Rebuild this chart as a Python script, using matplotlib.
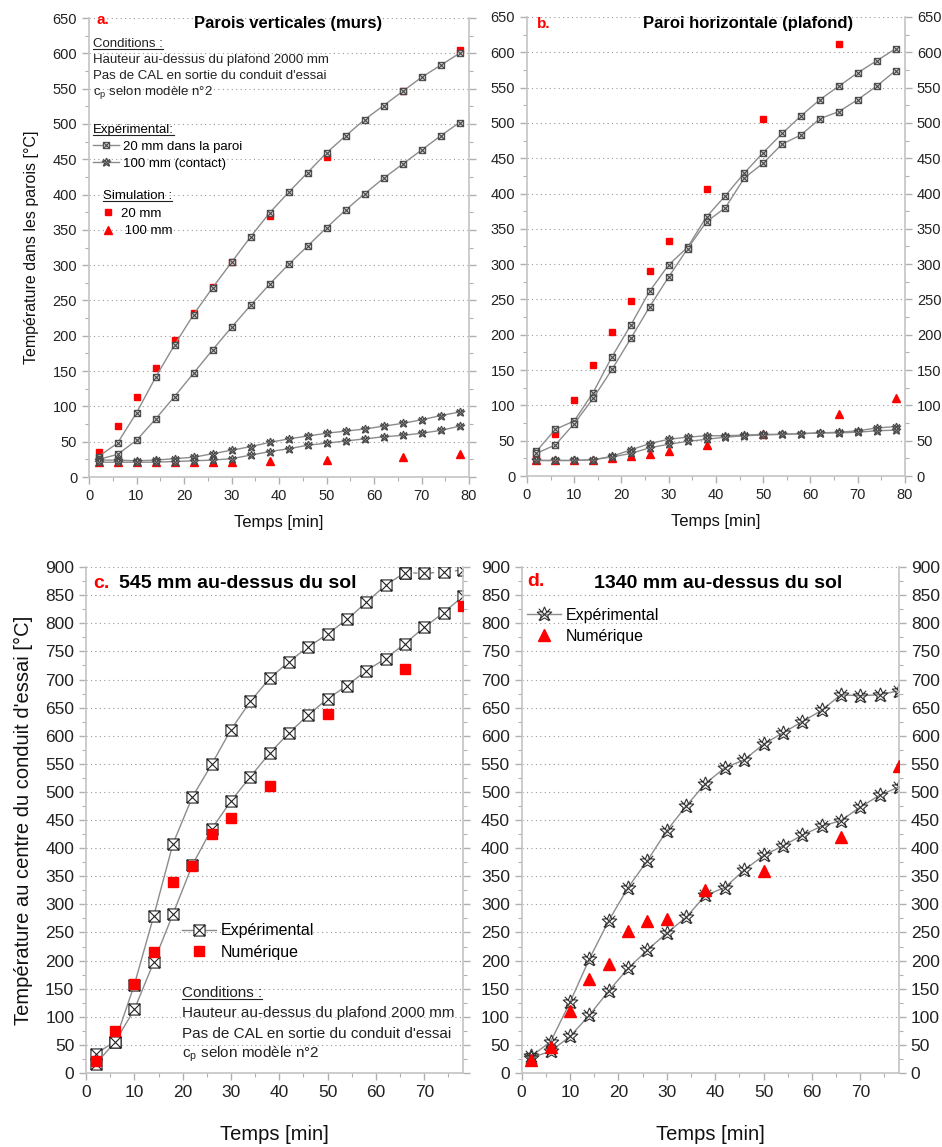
import numpy as np
import matplotlib.pyplot as plt
from matplotlib.path import Path
from matplotlib.lines import Line2D
from matplotlib.ticker import MultipleLocator

plt.rcParams['font.family'] = ['Liberation Sans', 'DejaVu Sans']
plt.rcParams['mathtext.fontset'] = 'custom'
plt.rcParams['mathtext.rm'] = 'Liberation Sans'

# temps de mesure [min]
time_exp = [2, 6, 10, 14, 18, 22, 26, 30, 34, 38, 42, 46, 50, 54, 58, 62, 66, 70, 74, 78]
time_sim = [2, 6, 10, 14, 18, 22, 26, 30, 38, 50, 66, 78]
time_sim_b20 = [2, 6, 10, 14, 18, 22, 26, 30, 38, 50, 66]

# a. parois verticales
a_20mm_1 = [29, 48, 91, 141, 187, 230, 268, 304, 340, 374, 403, 431, 459, 483, 506, 526, 546, 566, 583, 600]
a_20mm_2 = [25, 32, 52, 82, 114, 147, 180, 212, 243, 273, 301, 327, 353, 378, 401, 423, 443, 463, 483, 502]
a_100mm_1 = [24, 24, 23, 24, 26, 28, 33, 38, 43, 49, 54, 58, 62, 65, 68, 72, 76, 81, 87, 92]
a_100mm_2 = [21, 21, 21, 21, 22, 23, 24, 26, 31, 36, 40, 45, 48, 51, 54, 57, 59, 62, 66, 72]
a_sim_20mm = [36, 72, 113, 154, 194, 232, 269, 305, 369, 453, 546, 604]
a_sim_100mm = [22, 22, 22, 22, 22, 22, 22, 22, 23, 24, 28, 33]

# b. paroi horizontale
b_20mm_1 = [35, 66, 78, 118, 169, 214, 262, 299, 324, 367, 397, 429, 458, 485, 510, 533, 552, 571, 588, 605]
b_20mm_2 = [32, 44, 74, 110, 151, 195, 240, 282, 322, 360, 380, 422, 443, 470, 483, 506, 516, 533, 552, 574]
b_100mm_1 = [22, 22, 22, 23, 28, 37, 46, 52, 55, 57, 57, 58, 59, 59, 60, 61, 62, 64, 68, 70]
b_100mm_2 = [22, 22, 22, 23, 27, 32, 40, 45, 49, 52, 55, 57, 58, 59, 60, 61, 61, 62, 64, 65]
b_sim_20mm = [25, 60, 108, 157, 204, 248, 291, 333, 407, 505, 612]
b_sim_100mm = [22, 22, 22, 23, 26, 28, 31, 35, 44, 60, 88, 110]

# c. 545 mm au-dessus du sol
c_exp_1 = [34, 56, 157, 279, 408, 491, 549, 611, 661, 702, 732, 758, 781, 807, 837, 868, 890, 889, 891, 895]
c_exp_2 = [16, 55, 113, 197, 283, 370, 434, 484, 527, 569, 605, 637, 666, 689, 716, 737, 764, 793, 819, 848]
c_sim = [21, 75, 158, 216, 340, 368, 426, 453, 510, 639, 718, 830]

# d. 1340 mm au-dessus du sol
d_exp_1 = [30, 56, 126, 203, 271, 330, 378, 431, 475, 515, 543, 557, 585, 605, 625, 645, 673, 671, 673, 680]
d_exp_2 = [27, 39, 65, 103, 146, 186, 219, 249, 277, 316, 330, 361, 387, 404, 423, 439, 449, 473, 494, 509]
d_sim = [24, 46, 110, 167, 194, 253, 270, 274, 326, 359, 420, 546]

conditions = ["Hauteur au-dessus du plafond 2000 mm",
              "Pas de CAL en sortie du conduit d'essai",
              r"c$_\mathregular{p}$ selon modèle n°2"]

RED = '#ff0000'
LINE = '#8c8c8c'
MFC = '#c8c8c8'
MEC = '#4a4a4a'


def box_x_marker():
    verts = [(-1, -1), (1, -1), (1, 1), (-1, 1), (-1, -1),
             (-1, -1), (1, 1), (-1, 1), (1, -1)]
    codes = [Path.MOVETO] + [Path.LINETO] * 4 + [Path.MOVETO, Path.LINETO, Path.MOVETO, Path.LINETO]
    return Path(verts, codes)


def star_x_marker():
    k = np.arange(11)
    ang = np.deg2rad(90 + 36 * k)
    r = np.where(k % 2 == 0, 1.0, 0.45)
    verts = list(zip(r * np.cos(ang), r * np.sin(ang)))
    verts += [(-0.75, -0.75), (0.75, 0.75), (-0.75, 0.75), (0.75, -0.75)]
    codes = [Path.MOVETO] + [Path.LINETO] * 10 + [Path.MOVETO, Path.LINETO, Path.MOVETO, Path.LINETO]
    return Path(verts, codes)


BOX = box_x_marker()
STAR = star_x_marker()


def style_axes(ax, xmax, ymax, fs, right_labels):
    ax.set_xlim(0, xmax)
    ax.set_ylim(0, ymax)
    ax.xaxis.set_major_locator(MultipleLocator(10))
    ax.xaxis.set_minor_locator(MultipleLocator(5))
    ax.yaxis.set_major_locator(MultipleLocator(50))
    ax.yaxis.set_minor_locator(MultipleLocator(25))
    ax.spines['top'].set_visible(False)
    for s in ['left', 'right', 'bottom']:
        ax.spines[s].set_color('#c4c4c4')
        ax.spines[s].set_linewidth(1.2)
    ax.tick_params(which='both', direction='out', colors='#b0b0b0', labelcolor='#222222',
                   labelsize=fs, right=True, labelright=right_labels)
    ax.tick_params(which='major', length=5, width=1)
    ax.tick_params(which='minor', length=3, width=0.8)
    ax.grid(axis='y', which='major', linestyle=(0, (1, 3)), color='#9a9a9a', lw=0.8)
    ax.set_axisbelow(True)


def plot_exp(ax, t, y, marker, ms, mfc, mec, ls='-', z=2):
    ax.plot(t, y, color=LINE, lw=1, ls=ls, marker=marker, ms=ms, mfc=mfc, mec=mec, mew=0.8, zorder=z)


fig = plt.figure(figsize=(9.42, 11.47), dpi=100)
ax_a = fig.add_axes([0.0945, 0.5841, 0.4034, 0.4002])
ax_b = fig.add_axes([0.5594, 0.5850, 0.4013, 0.4002])
ax_c = fig.add_axes([0.0913, 0.0645, 0.4002, 0.4411])
ax_d = fig.add_axes([0.5538, 0.0645, 0.4005, 0.4411])

to_underline = []

# ---- a ----
ax = ax_a
style_axes(ax, 80, 650, 10.5, False)
ax.plot(time_sim, a_sim_20mm, ls='none', marker='s', ms=5, color=RED, zorder=2)
ax.plot(time_sim, a_sim_100mm, ls='none', marker='^', ms=6, color=RED, zorder=2)
plot_exp(ax, time_exp, a_20mm_1, BOX, 4.5, MFC, MEC, z=3)
plot_exp(ax, time_exp, a_20mm_2, BOX, 4.5, MFC, MEC, z=3)
plot_exp(ax, time_exp, a_100mm_1, STAR, 6.5, MFC, MEC, z=3)
plot_exp(ax, time_exp, a_100mm_2, STAR, 6.5, MFC, MEC, z=3)
ax.set_xlabel('Temps [min]', fontsize=12, labelpad=9, color='#111111')
ax.set_ylabel('Température dans les parois [°C]', fontsize=11.5, labelpad=10, color='#111111')
ax.text(0.021, 0.995, 'a.', transform=ax.transAxes, color=RED, fontsize=11, fontweight='bold', va='center')
ax.text(0.524, 0.988, 'Parois verticales (murs)', transform=ax.transAxes, fontsize=12, fontweight='bold', ha='center', va='center')
t = ax.text(0.0105, 0.9434, 'Conditions :', transform=ax.transAxes, fontsize=9.5, va='center', color='#222222')
to_underline.append(t)
for i, line in enumerate(conditions):
    ax.text(0.0105, 0.9085 - i * 0.0349, line, transform=ax.transAxes, fontsize=9.5, va='center', color='#222222')
h_exp = [Line2D([], [], color=LINE, lw=1, marker=BOX, ms=4.5, mfc=MFC, mec=MEC, mew=0.8),
         Line2D([], [], color=LINE, lw=1, marker=STAR, ms=6.5, mfc=MFC, mec=MEC, mew=0.8)]
leg1 = ax.legend(h_exp, ['20 mm dans la paroi', '100 mm (contact)'], title='Expérimental:',
                 loc='upper left', bbox_to_anchor=(0.0105, 0.7690), frameon=False, fontsize=9.5,
                 title_fontsize=9.5, alignment='left', borderpad=0, borderaxespad=0,
                 handlelength=2.0, handletextpad=0.3, labelspacing=0.35)
ax.add_artist(leg1)
to_underline.append(leg1.get_title())
h_sim = [Line2D([], [], ls='none', marker='s', ms=5, color=RED),
         Line2D([], [], ls='none', marker='^', ms=6, color=RED)]
leg2 = ax.legend(h_sim, ['20 mm', ' 100 mm'], title='Simulation :',
                 loc='upper left', bbox_to_anchor=(0.0368, 0.6250), frameon=False, fontsize=9.5,
                 title_fontsize=9.5, alignment='left', borderpad=0, borderaxespad=0,
                 handlelength=0.8, handletextpad=0.6, labelspacing=0.4)
to_underline.append(leg2.get_title())

# ---- b ----
ax = ax_b
style_axes(ax, 80, 650, 10.5, True)
ax.plot(time_sim_b20, b_sim_20mm, ls='none', marker='s', ms=5, color=RED, zorder=2)
ax.plot(time_sim, b_sim_100mm, ls='none', marker='^', ms=6, color=RED, zorder=2)
plot_exp(ax, time_exp, b_20mm_1, BOX, 4.5, MFC, MEC, z=3)
plot_exp(ax, time_exp, b_20mm_2, BOX, 4.5, MFC, MEC, z=3)
plot_exp(ax, time_exp, b_100mm_1, STAR, 6.5, MFC, MEC, z=3)
plot_exp(ax, time_exp, b_100mm_2, STAR, 6.5, MFC, MEC, z=3)
ax.set_xlabel('Temps [min]', fontsize=12, labelpad=9, color='#111111')
ax.text(0.026, 0.985, 'b.', transform=ax.transAxes, color=RED, fontsize=11, fontweight='bold', va='center')
ax.text(0.585, 0.985, 'Paroi horizontale (plafond)', transform=ax.transAxes, fontsize=12, fontweight='bold', ha='center', va='center')

# ---- c ----
ax = ax_c
style_axes(ax, 78, 900, 12.5, False)
plot_exp(ax, time_exp[:17], c_exp_1[:17], BOX, 8, 'white', '#222222')
plot_exp(ax, time_exp[16:], c_exp_1[16:], BOX, 8, 'white', '#222222', ls=(0, (3, 3)))
plot_exp(ax, time_exp, c_exp_2, BOX, 8, 'white', '#222222')
ax.plot(time_sim, c_sim, ls='none', marker='s', ms=7.5, color=RED, zorder=4)
ax.set_xlabel('Temps [min]', fontsize=14.5, labelpad=18, color='#111111')
ax.set_ylabel("Température au centre du conduit d'essai [°C]", fontsize=14.5, labelpad=9, color='#111111')
ax.text(0.0186, 0.968, 'c.', transform=ax.transAxes, color=RED, fontsize=14, fontweight='bold', va='center')
ax.text(0.0875, 0.968, '545 mm au-dessus du sol', transform=ax.transAxes, fontsize=14, fontweight='bold', va='center')
h_c = [Line2D([], [], color=LINE, lw=1, marker=BOX, ms=8, mfc='white', mec='#222222', mew=0.8),
       Line2D([], [], ls='none', marker='s', ms=7.5, color=RED)]
ax.legend(h_c, ['Expérimental', 'Numérique'], loc='upper left', bbox_to_anchor=(0.2546, 0.2960),
          frameon=False, fontsize=11.5, borderpad=0, borderaxespad=0,
          handlelength=2.1, handletextpad=0.3, labelspacing=0.4)
t = ax.text(0.2546, 0.158, 'Conditions :', transform=ax.transAxes, fontsize=11, va='center', color='#222222')
to_underline.append(t)
for i, line in enumerate(conditions):
    ax.text(0.2546, 0.1186 - i * 0.0405, line, transform=ax.transAxes, fontsize=11, va='center', color='#222222')

# ---- d ----
ax = ax_d
style_axes(ax, 78, 900, 12.5, True)
plot_exp(ax, time_exp, d_exp_1, STAR, 11, 'none', '#333333')
plot_exp(ax, time_exp, d_exp_2, STAR, 11, 'none', '#333333')
ax.plot(time_sim, d_sim, ls='none', marker='^', ms=9, color=RED, zorder=4)
ax.set_xlabel('Temps [min]', fontsize=14.5, labelpad=18, color='#111111')
ax.text(0.014, 0.971, 'd.', transform=ax.transAxes, color=RED, fontsize=14, fontweight='bold', va='center')
ax.text(0.52, 0.968, '1340 mm au-dessus du sol', transform=ax.transAxes, fontsize=14, fontweight='bold', ha='center', va='center')
h_d = [Line2D([], [], color=LINE, lw=1, marker=STAR, ms=11, mfc='none', mec='#333333', mew=0.8),
       Line2D([], [], ls='none', marker='^', ms=9, color=RED)]
ax.legend(h_d, ['Expérimental', 'Numérique'], loc='upper left', bbox_to_anchor=(0.014, 0.920),
          frameon=False, fontsize=11.5, borderpad=0, borderaxespad=0,
          handlelength=2.1, handletextpad=0.3, labelspacing=0.4)

# soulignement des titres de bloc
fig.canvas.draw()
inv = fig.transFigure.inverted()
for txt in to_underline:
    bb = txt.get_window_extent()
    (x0, y0), (x1, _) = inv.transform([(bb.x0, bb.y0 + 1), (bb.x1, bb.y1)])
    fig.add_artist(Line2D([x0, x1], [y0, y0], transform=fig.transFigure, color='#222222', lw=0.8))

fig.savefig('out.png', dpi=100)
